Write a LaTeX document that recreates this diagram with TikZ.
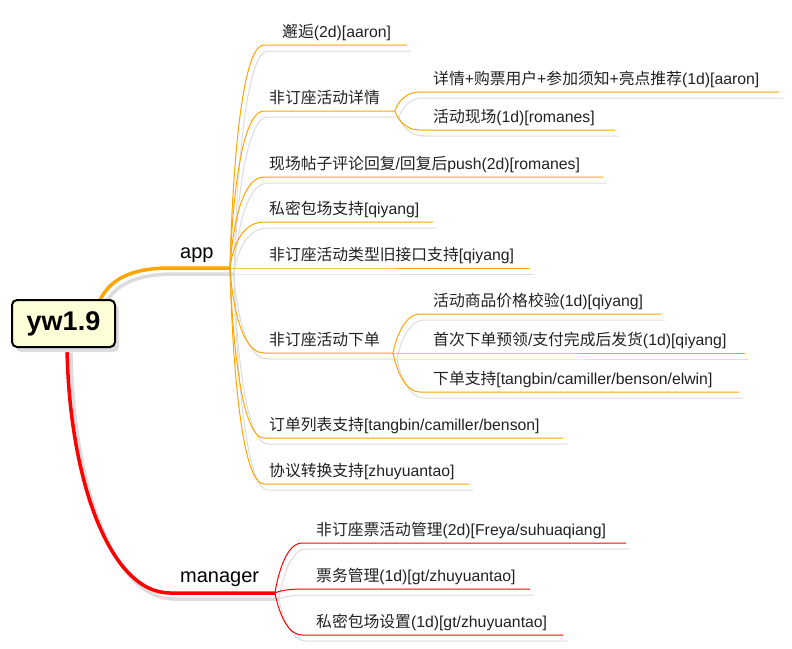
\documentclass[tikz,border=0pt]{standalone}
\usepackage{fontspec}
\setmainfont{Liberation Sans}
\newfontfamily\cjk{Noto Sans CJK SC}
\usetikzlibrary{calc,shadows}
\definecolor{orangeline}{RGB}{255,165,0}
\definecolor{redline}{RGB}{255,0,0}
\definecolor{shadowgray}{RGB}{220,220,220}
\definecolor{rootfill}{RGB}{254,254,216}
\definecolor{txt}{RGB}{34,34,34}
\newcommand\zh[1]{{\cjk #1}}
\newcommand\treeLines{%
  \draw[appthick] (rA) .. controls +(10,-20) and +(-40,0) .. (appL) -- (appJ);
  \draw[mgrthick] (rM) .. controls +(2,133) and +(-60,0) .. (mgL) -- (mgJ);
  \foreach \s/\e in {a1s/a1e,a2s/a2J,a3s/a3e,a4s/a4e,a5s/a5e,a6s/a6J,a7s/a7e,a8s/a8e}
    {\draw[appc] (appJ) to[curvy=30] (\s) -- (\e);}
  \foreach \s/\e in {b1s/b1e,b2s/b2e}
    {\draw[appc] (a2J) to[curvy=20] (\s) -- (\e);}
  \foreach \s/\e in {c1s/c1e,c2s/c2e,c3s/c3e}
    {\draw[appc] (a6J) to[curvy=20] (\s) -- (\e);}
  \foreach \s/\e in {m1s/m1e,m2s/m2e,m3s/m3e}
    {\draw[mgrc] (mgJ) to[curvy=20] (\s) -- (\e);}
}
\begin{document}
\begin{tikzpicture}[x=1pt,y=-1pt,
  leaf/.style={anchor=base west, inner sep=0pt, font=\fontsize{15.8}{18}\selectfont, text=txt},
  lvl1/.style={anchor=base west, inner sep=0pt, font=\fontsize{20}{24}\selectfont, text=black},
  rootbox/.style={draw=black, line width=2pt, rounded corners=5pt, fill=rootfill,
    minimum width=103pt, minimum height=47pt, inner sep=0pt,
    font=\fontsize{27}{30}\selectfont\bfseries,
    drop shadow={shadow xshift=4pt, shadow yshift=-5pt, fill=shadowgray, opacity=1}},
  appc/.style={draw=orangeline, line width=1pt},
  appthick/.style={draw=orangeline, line width=3.5pt},
  mgrc/.style={draw=redline, line width=1pt},
  mgrthick/.style={draw=redline, line width=3.5pt},
  curvy/.style={to path={.. controls (\tikztostart) and ($(\tikztotarget)+(-#1,0)$) .. (\tikztotarget)}}
]
\useasboundingbox[fill=white] (0,0) rectangle (792,648);

% coordinates
\coordinate (appL) at (170,268); \coordinate (appJ) at (230,268);
\coordinate (mgL) at (170,593);  \coordinate (mgJ) at (275,593);
\coordinate (a1s) at (264,45);  \coordinate (a1e) at (407,45);
\coordinate (a2s) at (264,111); \coordinate (a2J) at (395,111);
\coordinate (a3s) at (264,177); \coordinate (a3e) at (603,177);
\coordinate (a4s) at (264,222); \coordinate (a4e) at (433,222);
\coordinate (a5s) at (264,268); \coordinate (a5e) at (530,268);
\coordinate (a6s) at (264,353); \coordinate (a6J) at (393,353);
\coordinate (a7s) at (264,438); \coordinate (a7e) at (563,438);
\coordinate (a8s) at (264,484); \coordinate (a8e) at (469,484);
\coordinate (b1s) at (420,92);  \coordinate (b1e) at (779,92);
\coordinate (b2s) at (420,130); \coordinate (b2e) at (615,130);
\coordinate (c1s) at (420,314); \coordinate (c1e) at (661,314);
\coordinate (c2s) at (420,353); \coordinate (c2e) at (745,353);
\coordinate (c3s) at (420,392); \coordinate (c3e) at (739,392);
\coordinate (m1s) at (302,543); \coordinate (m1e) at (626,543);
\coordinate (m2s) at (302,589); \coordinate (m2e) at (530,589);
\coordinate (m3s) at (302,635); \coordinate (m3e) at (563,635);

\path (63.5,323.5) coordinate (rootc);
\coordinate (rA) at (100,300);
\coordinate (rM) at (67,347);

% shadows of connectors
\begin{scope}[transform canvas={shift={(4pt,-6pt)}},
  appc/.style={draw=shadowgray, line width=1pt},
  appthick/.style={draw=shadowgray, line width=3.5pt},
  mgrc/.style={draw=shadowgray, line width=1pt},
  mgrthick/.style={draw=shadowgray, line width=3.5pt}]
  \treeLines
\end{scope}
% connectors
\treeLines

\node[rootbox] (root) at (rootc) {yw1.9};

% level 1 labels
\node[lvl1] (app) at (180,258) {app};
\node[lvl1] (manager) at (180,582) {manager};

% level 2 / 3 labels
\node[leaf] (t1) at (282,37) {\zh{邂逅}(2d)[aaron]};
\node[leaf] (t2) at (269,103) {\zh{非订座活动详情}};
\node[leaf] (t21) at (433,84) {\zh{详情}+\zh{购票用户}+\zh{参加须知}+\zh{亮点推荐}(1d)[aaron]};
\node[leaf] (t22) at (433,122) {\zh{活动现场}(1d)[romanes]};
\node[leaf] (t3) at (269,169) {\zh{现场帖子评论回复}/\zh{回复后}push(2d)[romanes]};
\node[leaf] (t4) at (269,214) {\zh{私密包场支持}[qiyang]};
\node[leaf] (t5) at (269,260) {\zh{非订座活动类型旧接口支持}[qiyang]};
\node[leaf] (t6) at (269,345) {\zh{非订座活动下单}};
\node[leaf] (t61) at (433,306) {\zh{活动商品价格校验}(1d)[qiyang]};
\node[leaf] (t62) at (433,345) {\zh{首次下单预领}/\zh{支付完成后发货}(1d)[qiyang]};
\node[leaf] (t63) at (433,384) {\zh{下单支持}[tangbin/camiller/benson/elwin]};
\node[leaf] (t7) at (269,430) {\zh{订单列表支持}[tangbin/camiller/benson]};
\node[leaf] (t8) at (269,476) {\zh{协议转换支持}[zhuyuantao]};
\node[leaf] (tm1) at (316,535) {\zh{非订座票活动管理}(2d)[Freya/suhuaqiang]};
\node[leaf] (tm2) at (316,581) {\zh{票务管理}(1d)[gt/zhuyuantao]};
\node[leaf] (tm3) at (316,627) {\zh{私密包场设置}(1d)[gt/zhuyuantao]};
\end{tikzpicture}
\end{document}
